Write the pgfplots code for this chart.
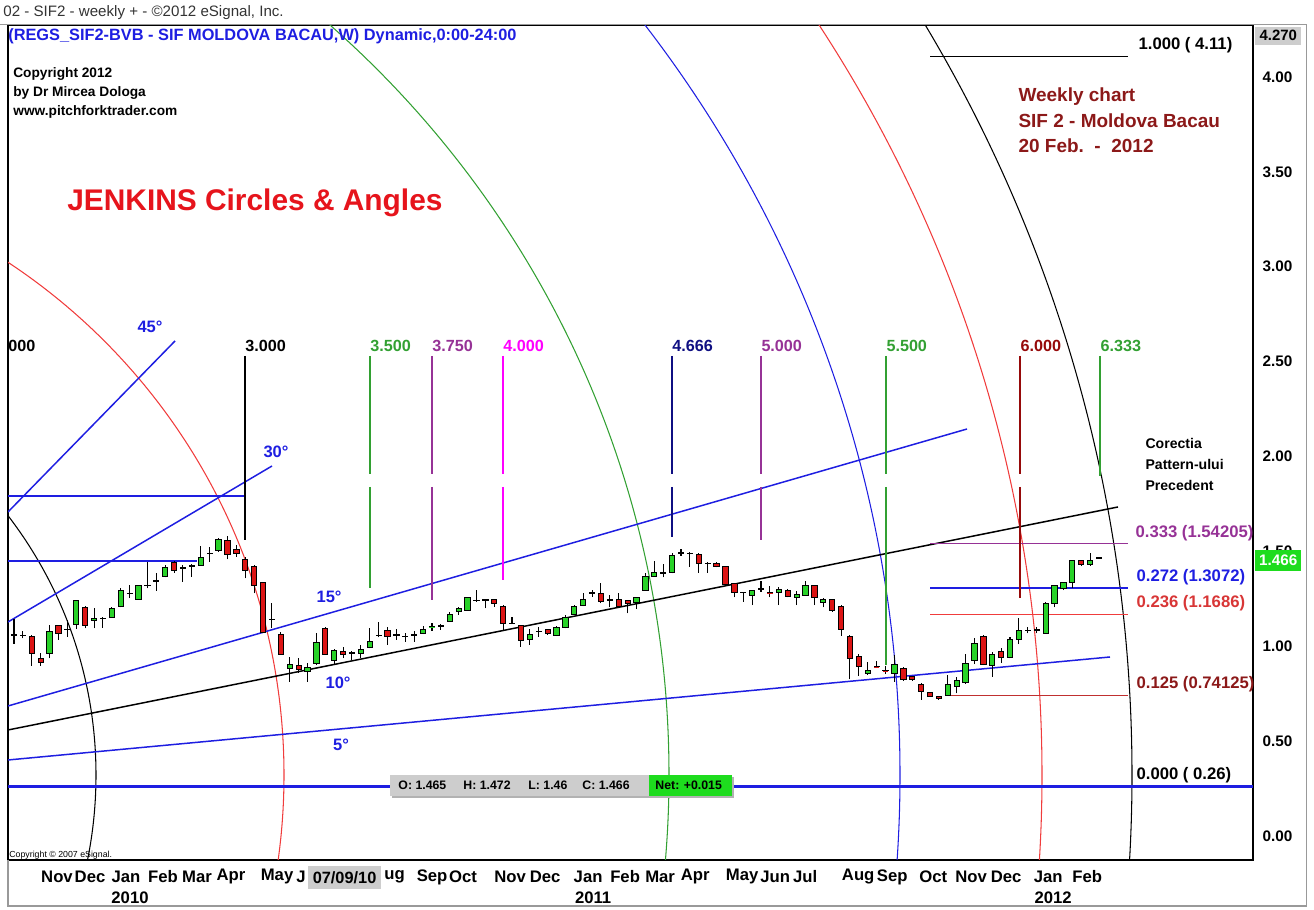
\documentclass[border=0pt]{standalone}
\usepackage{pgfplots}
\pgfplotsset{compat=1.18}
\usepackage{pgfplotstable}
\usepackage{fontspec}
\setmainfont{Liberation Sans}
\definecolor{cgreen}{RGB}{40,210,40}
\definecolor{cred}{RGB}{220,20,20}
\definecolor{lblue}{RGB}{30,30,225}
\definecolor{arcred}{RGB}{240,60,60}
\definecolor{arcgreen}{RGB}{50,160,50}
\definecolor{purp}{RGB}{150,50,150}
\definecolor{magn}{RGB}{255,0,255}
\definecolor{navy}{RGB}{15,15,130}
\definecolor{dred}{RGB}{150,10,10}
\definecolor{wred}{RGB}{140,25,25}
\definecolor{jred}{RGB}{230,20,28}
\definecolor{boxgray}{RGB}{205,205,205}
\definecolor{netgreen}{RGB}{30,220,30}
\newcommand{\fs}[1]{\fontsize{#1pt}{#1pt}\selectfont}
\pgfdeclareplotmark{empty}{}

\pgfplotstableread{
o h l c
1.062 1.142 1.012 1.056
1.059 1.082 1.042 1.057
1.054 1.059 0.898 0.963
0.935 0.966 0.898 0.914
0.963 1.112 0.936 1.077
1.107 1.112 1.033 1.068
1.086 1.138 1.050 1.090
1.117 1.244 1.090 1.240
1.202 1.212 1.094 1.107
1.135 1.200 1.094 1.147
1.147 1.156 1.098 1.149
1.152 1.205 1.152 1.198
1.209 1.305 1.205 1.293
1.276 1.323 1.253 1.278
1.249 1.323 1.248 1.318
1.321 1.446 1.305 1.323
1.342 1.388 1.293 1.346
1.370 1.428 1.363 1.414
1.440 1.451 1.388 1.398
1.414 1.428 1.340 1.409
1.421 1.432 1.367 1.425
1.428 1.528 1.425 1.468
1.488 1.525 1.446 1.491
1.504 1.569 1.498 1.565
1.560 1.581 1.458 1.484
1.511 1.534 1.472 1.490
1.455 1.472 1.358 1.402
1.423 1.428 1.279 1.323
1.335 1.340 1.068 1.072
1.140 1.226 1.094 1.142
1.064 1.077 0.954 0.957
0.884 0.945 0.814 0.905
0.900 0.936 0.861 0.879
0.868 0.910 0.814 0.889
0.910 1.068 0.901 1.019
1.094 1.100 0.954 0.957
0.924 0.984 0.901 0.980
0.974 0.998 0.937 0.957
0.964 0.974 0.928 0.966
0.964 1.007 0.937 0.984
0.994 1.094 0.989 1.024
1.055 1.130 1.047 1.057
1.082 1.100 1.007 1.050
1.058 1.089 1.033 1.060
1.053 1.068 1.024 1.051
1.058 1.082 1.024 1.060
1.068 1.107 1.064 1.089
1.102 1.124 1.082 1.104
1.107 1.117 1.086 1.104
1.130 1.182 1.130 1.170
1.182 1.209 1.165 1.200
1.187 1.261 1.187 1.258
1.240 1.296 1.235 1.242
1.244 1.246 1.200 1.242
1.244 1.247 1.209 1.223
1.212 1.217 1.086 1.121
1.121 1.156 1.117 1.119
1.107 1.112 0.998 1.033
1.036 1.089 1.007 1.064
1.077 1.100 1.050 1.079
1.086 1.089 1.059 1.068
1.059 1.107 1.053 1.100
1.100 1.165 1.094 1.152
1.170 1.217 1.165 1.212
1.217 1.282 1.212 1.244
1.279 1.296 1.261 1.281
1.277 1.335 1.226 1.237
1.243 1.270 1.205 1.245
1.244 1.279 1.205 1.212
1.239 1.240 1.173 1.226
1.230 1.261 1.195 1.258
1.293 1.388 1.293 1.370
1.370 1.451 1.367 1.388
1.386 1.433 1.363 1.388
1.388 1.493 1.384 1.476
1.491 1.511 1.476 1.493
1.490 1.497 1.420 1.488
1.486 1.490 1.388 1.437
1.437 1.446 1.388 1.435
1.437 1.446 1.416 1.420
1.420 1.423 1.323 1.328
1.330 1.333 1.258 1.282
1.286 1.288 1.235 1.284
1.270 1.296 1.217 1.293
1.300 1.346 1.288 1.302
1.283 1.318 1.258 1.281
1.282 1.311 1.217 1.300
1.296 1.300 1.258 1.261
1.258 1.293 1.217 1.275
1.270 1.346 1.265 1.323
1.318 1.321 1.217 1.256
1.230 1.256 1.205 1.247
1.244 1.247 1.182 1.187
1.212 1.217 1.054 1.086
1.054 1.059 0.825 0.936
0.945 0.959 0.843 0.893
0.854 0.919 0.849 0.875
0.893 0.924 0.889 0.891
0.872 0.896 0.854 0.870
0.854 0.954 0.813 0.906
0.884 0.889 0.819 0.826
0.840 0.843 0.819 0.826
0.801 0.805 0.717 0.761
0.756 0.761 0.735 0.738
0.735 0.735 0.717 0.726
0.743 0.849 0.738 0.801
0.787 0.836 0.752 0.819
0.808 0.959 0.801 0.910
0.924 1.042 0.906 1.015
1.050 1.059 0.901 0.906
0.901 0.971 0.840 0.959
0.971 0.989 0.913 0.942
0.942 1.050 0.936 1.036
1.036 1.147 1.011 1.082
1.083 1.100 1.068 1.085
1.084 1.103 1.068 1.086
1.068 1.235 1.068 1.226
1.226 1.323 1.205 1.318
1.305 1.340 1.296 1.335
1.335 1.455 1.305 1.451
1.451 1.455 1.423 1.433
1.433 1.490 1.423 1.451
1.465 1.472 1.460 1.466
}\candles

\begin{document}
\begin{tikzpicture}
\begin{axis}[
  name=main,
  scale only axis, width=24.9cm, height=16.7cm,
  xmin=8, xmax=1253, ymin=-0.1265, ymax=4.2741,
  axis line style={line width=0.9pt},
  xtick=\empty,
  ytick={0,0.5,1,1.5,2,2.5,3,3.5,4},
  yticklabel pos=right,
  major tick length=0pt,
  yticklabel style={xshift=2pt, font=\fs{8.7}\bfseries, /pgf/number format/.cd, fixed, fixed zerofill, precision=2, assume math mode=true},
  clip=true,
]
% Jenkins circles
\draw[black, line width=0.6pt] (axis cs:-330,0.3215) circle[radius=8.52cm];
\draw[arcred, line width=0.6pt] (axis cs:-330,0.3215) circle[radius=12.28cm];
\draw[arcgreen, line width=0.6pt] (axis cs:-330,0.3215) circle[radius=19.98cm];
\draw[lblue, line width=0.6pt] (axis cs:-330,0.3215) circle[radius=24.6cm];
\draw[arcred, line width=0.6pt] (axis cs:-330,0.3215) circle[radius=27.44cm];
\draw[black, line width=0.6pt] (axis cs:-330,0.3215) circle[radius=29.24cm];
% base line
\addplot[lblue, line width=1.8pt] coordinates {(8,0.26) (1253,0.26)};
% angles
\addplot[lblue, line width=0.85pt] coordinates {(8,0.4005) (1110,0.9433)};
\addplot[black, line width=0.85pt] coordinates {(8,0.5586) (1118,1.7339)};
\addplot[lblue, line width=0.85pt] coordinates {(8,0.6851) (967,2.1449)};
\addplot[lblue, line width=0.85pt] coordinates {(8,1.1278) (272,1.9499)};
\addplot[lblue, line width=0.85pt] coordinates {(8,1.7075) (175,2.6087)};
\addplot[lblue, line width=0.7pt] coordinates {(8,1.792) (245,1.792)};
\addplot[lblue, line width=0.7pt] coordinates {(8,1.449) (197,1.449)};
% fibonacci levels
\addplot[black, line width=0.7pt] coordinates {(930,4.11) (1128,4.11)};
\addplot[purp, line width=0.7pt] coordinates {(930,1.54205) (1128,1.54205)};
\addplot[lblue, line width=0.7pt] coordinates {(930,1.3072) (1128,1.3072)};
\addplot[arcred, line width=0.7pt] coordinates {(930,1.1686) (1128,1.1686)};
\addplot[arcred!80!black, line width=0.7pt] coordinates {(945,0.74125) (1128,0.74125)};
% time markers
\addplot[black, line width=0.6pt] coordinates {(245,2.530) (245,1.560)};
\addplot[arcgreen, line width=0.6pt] coordinates {(370,2.530) (370,1.91)};
\addplot[arcgreen, line width=0.6pt] coordinates {(370,1.84) (370,1.307)};
\addplot[purp, line width=0.6pt] coordinates {(432,2.530) (432,1.91)};
\addplot[purp, line width=0.6pt] coordinates {(432,1.84) (432,1.244)};
\addplot[magn, line width=0.6pt] coordinates {(503,2.530) (503,1.91)};
\addplot[magn, line width=0.6pt] coordinates {(503,1.84) (503,1.349)};
\addplot[navy, line width=0.6pt] coordinates {(672,2.530) (672,1.91)};
\addplot[navy, line width=0.6pt] coordinates {(672,1.84) (672,1.576)};
\addplot[purp, line width=0.6pt] coordinates {(761,2.530) (761,1.91)};
\addplot[purp, line width=0.6pt] coordinates {(761,1.84) (761,1.560)};
\addplot[arcgreen, line width=0.6pt] coordinates {(886,2.530) (886,1.91)};
\addplot[arcgreen, line width=0.6pt] coordinates {(886,1.84) (886,0.901)};
\addplot[dred, line width=0.6pt] coordinates {(1020,2.530) (1020,1.91)};
\addplot[dred, line width=0.6pt] coordinates {(1020,1.84) (1020,1.254)};
\addplot[arcgreen, line width=0.6pt] coordinates {(1100,2.530) (1100,1.897)};
% candles (one y unit = 16.7cm/4.4006 = 3.79494cm)
\addplot[scatter, only marks, mark=empty,
  visualization depends on={\thisrow{h}-\thisrow{o} \as \cup},
  visualization depends on={\thisrow{l}-\thisrow{o} \as \cdn},
  visualization depends on={\thisrow{c}-\thisrow{o} \as \cbd},
  scatter/@pre marker code/.code={%
    \pgfmathsetmacro\upv{\cup*3.79494}%
    \pgfmathsetmacro\dnv{\cdn*3.79494}%
    \pgfmathsetmacro\bdv{\cbd*3.79494}%
    \ifdim\bdv pt>0pt \def\cc{cgreen}\else\def\cc{cred}\fi
    \pgfsetlinewidth{0.6pt}\pgfsetstrokecolor{black}%
    \pgfpathmoveto{\pgfpoint{0pt}{\dnv cm}}%
    \pgfpathlineto{\pgfpoint{0pt}{\upv cm}}%
    \pgfusepath{stroke}%
    \pgfsetlinewidth{0.5pt}\pgfsetfillcolor{\cc}%
    \pgfpathrectanglecorners{\pgfpoint{-1.5pt}{0pt}}{\pgfpoint{1.5pt}{\bdv cm}}%
    \pgfusepath{fill,stroke}%
  },
  scatter/@post marker code/.code={},
] table[x expr={14+8.893*\coordindex}, y=o] {\candles};
\end{axis}

\begin{scope}[x=0.02cm,y=-0.02cm,shift={(main.south west)},shift={(-8,-860)}]
% frame
\draw[gray!80, line width=0.7pt] (0,25) -- (1306,25) -- (1306,906) -- (8,906) -- (8,860);
% header
\node[anchor=west,inner sep=0,text=black!80,font=\fs{8.6}] at (3,13) {02 - SIF2 - weekly + - ©2012 eSignal, Inc.};
\node[anchor=west,inner sep=0,text=lblue,font=\fs{9.3}\bfseries] at (8,36) {(REGS\_SIF2-BVB - SIF MOLDOVA BACAU,W) Dynamic,0:00-24:00};
\node[anchor=west,inner sep=0,font=\fs{7.8}\bfseries] at (13,74) {Copyright 2012};
\node[anchor=west,inner sep=0,font=\fs{7.8}\bfseries] at (13,93) {by Dr Mircea Dologa};
\node[anchor=west,inner sep=0,font=\fs{7.8}\bfseries] at (13,112) {www.pitchforktrader.com};
\node[anchor=west,inner sep=0,text=jred,font=\fs{17}\bfseries] at (67,203) {JENKINS Circles \& Angles};
\node[anchor=west,inner sep=0,text=wred,font=\fs{10.8}\bfseries] at (1018,97) {Weekly chart};
\node[anchor=west,inner sep=0,text=wred,font=\fs{10.8}\bfseries] at (1018,121) {SIF 2 - Moldova Bacau};
\node[anchor=west,inner sep=0,text=wred,font=\fs{10.8}\bfseries] at (1018,146) {20 Feb.\ \ -\ \ 2012};
% fib labels
\node[anchor=west,inner sep=0,font=\fs{9.5}\bfseries] at (1138,45) {1.000 ( 4.11)};
\node[anchor=west,inner sep=0,text=purp,font=\fs{9.5}\bfseries] at (1135,533) {0.333 (1.54205)};
\node[anchor=west,inner sep=0,text=lblue,font=\fs{9.5}\bfseries] at (1136,577) {0.272 (1.3072)};
\node[anchor=west,inner sep=0,text=arcred!90!black,font=\fs{9.5}\bfseries] at (1136,603) {0.236 (1.1686)};
\node[anchor=west,inner sep=0,text=wred,font=\fs{9.5}\bfseries] at (1136,684) {0.125 (0.74125)};
\node[anchor=west,inner sep=0,font=\fs{9.5}\bfseries] at (1136,775) {0.000 ( 0.26)};
\node[anchor=west,inner sep=0,font=\fs{8}\bfseries] at (1145,444) {Corectia};
\node[anchor=west,inner sep=0,font=\fs{8}\bfseries] at (1145,465) {Pattern-ului};
\node[anchor=west,inner sep=0,font=\fs{8}\bfseries] at (1145,486) {Precedent};
% time marker labels
\node[anchor=west,inner sep=0,font=\fs{9.2}\bfseries] at (8,346) {000};
\node[anchor=west,inner sep=0,font=\fs{9.2}\bfseries] at (245,346) {3.000};
\node[anchor=west,inner sep=0,text=arcgreen,font=\fs{9.2}\bfseries] at (370,346) {3.500};
\node[anchor=west,inner sep=0,text=purp,font=\fs{9.2}\bfseries] at (432,346) {3.750};
\node[anchor=west,inner sep=0,text=magn,font=\fs{9.2}\bfseries] at (503,346) {4.000};
\node[anchor=west,inner sep=0,text=navy,font=\fs{9.2}\bfseries] at (672,346) {4.666};
\node[anchor=west,inner sep=0,text=purp,font=\fs{9.2}\bfseries] at (761,346) {5.000};
\node[anchor=west,inner sep=0,text=arcgreen,font=\fs{9.2}\bfseries] at (886,346) {5.500};
\node[anchor=west,inner sep=0,text=dred,font=\fs{9.2}\bfseries] at (1020,346) {6.000};
\node[anchor=west,inner sep=0,text=arcgreen,font=\fs{9.2}\bfseries] at (1100,346) {6.333};
% angle labels
\node[inner sep=0,text=lblue,font=\fs{9.4}\bfseries] at (150,327) {45°};
\node[inner sep=0,text=lblue,font=\fs{9.4}\bfseries] at (276,452) {30°};
\node[inner sep=0,text=lblue,font=\fs{9.4}\bfseries] at (329,597) {15°};
\node[inner sep=0,text=lblue,font=\fs{9.4}\bfseries] at (338,683) {10°};
\node[inner sep=0,text=lblue,font=\fs{9.4}\bfseries] at (341,745) {5°};
% info box
\fill[gray!60] (392,777) rectangle (734,798);
\fill[boxgray] (390,775) rectangle (649,796);
\fill[netgreen] (649,775) rectangle (732,796);
\node[anchor=west,inner sep=0,font=\fs{7}\bfseries] at (398,785.5) {O: 1.465};
\node[anchor=west,inner sep=0,font=\fs{7}\bfseries] at (463,785.5) {H: 1.472};
\node[anchor=west,inner sep=0,font=\fs{7}\bfseries] at (528,785.5) {L: 1.46};
\node[anchor=west,inner sep=0,font=\fs{7}\bfseries] at (582,785.5) {C: 1.466};
\node[anchor=west,inner sep=0,font=\fs{7}\bfseries] at (655,785.5) {Net: +0.015};
\node[anchor=west,inner sep=0,font=\fs{5}] at (9,855) {Copyright © 2007 eSignal.};
% right axis boxes
\fill[boxgray] (1255,27) rectangle (1301,45);
\node[inner sep=0,font=\fs{8.5}\bfseries] at (1278,36) {4.270};
\fill[netgreen] (1255,550) rectangle (1301,571);
\node[inner sep=0,text=white,font=\fs{8.7}\bfseries] at (1278,560.5) {1.466};
% month labels
\foreach \mx/\mn in {57/Nov,90/Dec,126/Jan,163/Feb,197/Mar,231/Apr,277/May,301/J,432/Sep,463/Oct,510/Nov,545/Dec,588/Jan,625/Feb,660/Mar,695/Apr,742/May,775/Jun,805/Jul,858/Aug,892/Sep,933/Oct,971/Nov,1006/Dec,1048/Jan,1087/Feb}
  \node[inner sep=0,font=\fs{9.5}\bfseries] at (\mx,877) {\mn};
\node[anchor=west,inner sep=0,font=\fs{9.5}\bfseries] at (384,877) {ug};
\fill[boxgray] (308,866) rectangle (381,889);
\node[inner sep=0,font=\fs{9.3}\bfseries] at (344.5,877.5) {07/09/10};
\node[inner sep=0,font=\fs{9.5}\bfseries] at (130,898) {2010};
\node[inner sep=0,font=\fs{9.5}\bfseries] at (593,898) {2011};
\node[inner sep=0,font=\fs{9.5}\bfseries] at (1053,898) {2012};
\end{scope}
\pgfresetboundingbox
\path ([shift={(-0.16cm,-1.0cm)}]main.south west) rectangle ([shift={(1.22cm,0.5cm)}]main.north east);
\end{tikzpicture}
\end{document}
